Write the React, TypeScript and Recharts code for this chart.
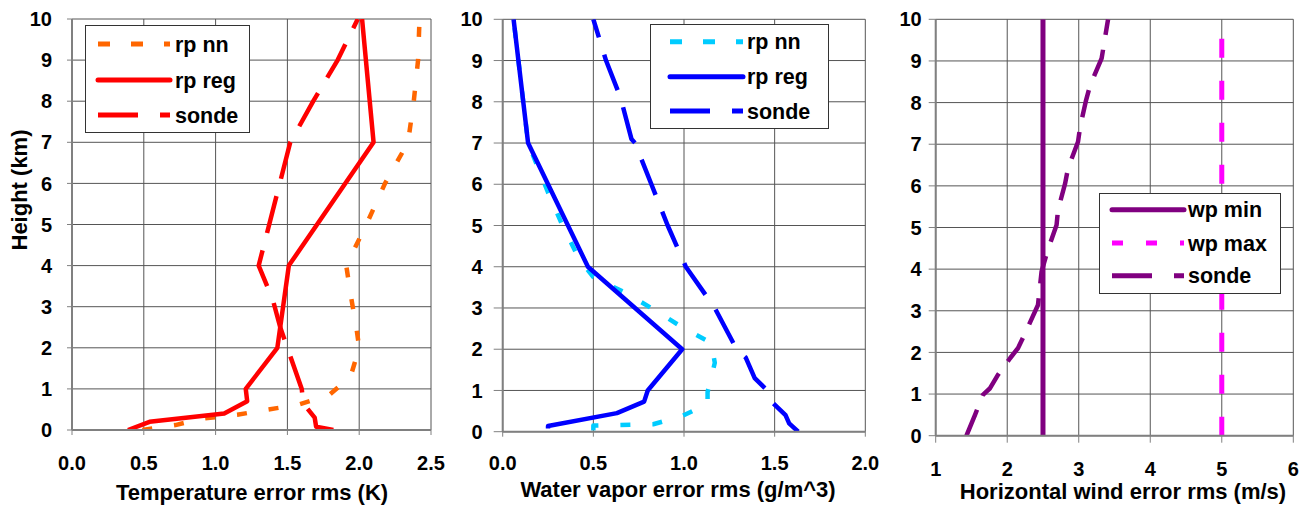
import React from 'react';
import { LineChart, Line, XAxis, YAxis, CartesianGrid, Legend } from 'recharts';

type P = { v: number; h: number };

const FONT = '"Liberation Sans", Arial, Helvetica, sans-serif';

// ---------- tick labels ----------
const heightTicks = [0, 1, 2, 3, 4, 5, 6, 7, 8, 9, 10];
const tempTicks = [0, 0.5, 1, 1.5, 2, 2.5];
const vaporTicks = [0, 0.5, 1, 1.5, 2];
const windTicks = [1, 2, 3, 4, 5, 6];

// ---------- series names ----------
const tempNames = ['rp nn', 'rp reg', 'sonde'];
const vaporNames = ['rp nn', 'rp reg', 'sonde'];
const windNames = ['wp min', 'wp max', 'sonde'];

// ---------- axis titles ----------
const yTitle = 'Height (km)';
const tempTitle = 'Temperature error rms (K)';
const vaporTitle = 'Water vapor error rms (g/m^3)';
const windTitle = 'Horizontal wind error rms (m/s)';

// ---------- temperature (K) vs height (km) ----------
const tempRpNn: P[] = [
  { v: 0.49, h: 0 }, { v: 0.72, h: 0.12 }, { v: 0.91, h: 0.28 }, { v: 1.15, h: 0.37 },
  { v: 1.35, h: 0.49 }, { v: 1.57, h: 0.61 }, { v: 1.79, h: 0.85 }, { v: 1.94, h: 1.3 },
  { v: 2.0, h: 2 }, { v: 1.98, h: 2.5 }, { v: 1.94, h: 3.3 }, { v: 1.91, h: 4 },
  { v: 2.05, h: 5 }, { v: 2.18, h: 6 }, { v: 2.34, h: 7 }, { v: 2.38, h: 8 },
  { v: 2.41, h: 9 }, { v: 2.42, h: 10 },
];
const tempRpReg: P[] = [
  { v: 0.39, h: 0 }, { v: 0.54, h: 0.2 }, { v: 1.06, h: 0.4 }, { v: 1.22, h: 0.7 },
  { v: 1.21, h: 1 }, { v: 1.43, h: 2 }, { v: 1.45, h: 2.5 }, { v: 1.51, h: 4 },
  { v: 2.1, h: 7 }, { v: 2.02, h: 10 },
];
const tempSonde: P[] = [
  { v: 1.82, h: 0 }, { v: 1.7, h: 0.08 }, { v: 1.69, h: 0.3 }, { v: 1.61, h: 0.65 },
  { v: 1.6, h: 1 }, { v: 1.5, h: 2 }, { v: 1.45, h: 2.5 }, { v: 1.4, h: 3.15 },
  { v: 1.3, h: 4 }, { v: 1.52, h: 7 }, { v: 1.68, h: 8 }, { v: 1.85, h: 9 },
  { v: 1.99, h: 10 },
];

// ---------- water vapor (g/m^3) vs height (km) ----------
const vaporRpNn: P[] = [
  { v: 0.5, h: 0.03 }, { v: 0.5, h: 0.15 }, { v: 0.83, h: 0.18 }, { v: 0.99, h: 0.38 },
  { v: 1.13, h: 0.67 }, { v: 1.13, h: 0.96 }, { v: 1.17, h: 1.67 }, { v: 1.15, h: 2.15 },
  { v: 0.98, h: 2.56 }, { v: 0.83, h: 2.97 }, { v: 0.68, h: 3.36 }, { v: 0.5, h: 3.75 },
  { v: 0.42, h: 4.2 }, { v: 0.33, h: 5 }, { v: 0.25, h: 5.8 }, { v: 0.14, h: 7 },
  { v: 0.06, h: 10 },
];
const vaporRpReg: P[] = [
  { v: 0.25, h: 0.08 }, { v: 0.25, h: 0.14 }, { v: 0.63, h: 0.45 }, { v: 0.78, h: 0.73 },
  { v: 0.8, h: 1 }, { v: 0.99, h: 2 }, { v: 0.47, h: 4 }, { v: 0.14, h: 7 },
  { v: 0.06, h: 10 },
];
const vaporSonde: P[] = [
  { v: 1.63, h: 0 }, { v: 1.58, h: 0.2 }, { v: 1.56, h: 0.4 }, { v: 1.49, h: 0.7 },
  { v: 1.46, h: 1 }, { v: 1.39, h: 1.3 }, { v: 1.34, h: 1.8 }, { v: 1.29, h: 2 },
  { v: 1.17, h: 3 }, { v: 1.01, h: 4 }, { v: 0.91, h: 5 }, { v: 0.82, h: 6 },
  { v: 0.73, h: 7 }, { v: 0.71, h: 7.1 }, { v: 0.65, h: 8.1 }, { v: 0.57, h: 9 },
  { v: 0.5, h: 10 },
];

// ---------- horizontal wind (m/s) vs height (km) ----------
const windWpMin: P[] = [{ v: 2.5, h: 0 }, { v: 2.5, h: 10 }];
const windWpMax: P[] = [{ v: 5, h: 0 }, { v: 5, h: 10 }];
const windSonde: P[] = [
  { v: 1.43, h: 0 }, { v: 1.55, h: 0.5 }, { v: 1.66, h: 0.98 }, { v: 1.76, h: 1.14 },
  { v: 1.87, h: 1.46 }, { v: 2.04, h: 1.86 }, { v: 2.15, h: 2.1 }, { v: 2.25, h: 2.46 },
  { v: 2.43, h: 3.14 }, { v: 2.48, h: 3.94 }, { v: 2.56, h: 4.42 }, { v: 2.69, h: 5.06 },
  { v: 2.71, h: 5.42 }, { v: 2.81, h: 6.06 }, { v: 2.85, h: 6.42 }, { v: 2.99, h: 7.06 },
  { v: 3.02, h: 7.42 }, { v: 3.1, h: 8.04 }, { v: 3.16, h: 8.42 }, { v: 3.32, h: 9.06 },
  { v: 3.41, h: 10 },
];

// ---------- styling / layout ----------
type Series = {
  name: string;
  data: P[];
  color: string;
  width: number;
  dash?: string;
  legendDash?: string;
  round?: boolean;
};

type PanelCfg = {
  left: number;
  width: number;
  top: number;
  right: number;
  yw: number;
  xh: number;
  domain: [number, number];
  ticks: number[];
  fmt: (v: number) => string;
  ytickSize: number;
  ytickMargin: number;
  xtickSize: number;
  xtickMargin: number;
  series: Series[];
  legend: { left: number; top: number; w: number; h: number; rows: number[]; sx1: number; sx2: number; tx: number };
  xTitle: string;
  xTitleX: number;
  xTitleY: number;
  yTitle?: boolean;
};

const tickStyle = { fill: '#000', fontSize: 20, fontWeight: 700, fontFamily: FONT };
const TITLE_SIZE = 22;

const panels: PanelCfg[] = [
  {
    left: 0, width: 460, top: 19, right: 29, yw: 72, xh: 76,
    domain: [0, 2.5], ticks: tempTicks, fmt: (v) => v.toFixed(1),
    ytickSize: 5, ytickMargin: 15, xtickSize: 5, xtickMargin: 21,
    series: [
      { name: tempNames[0], data: tempRpNn, color: '#FF6600', width: 4.5, dash: '10 22', legendDash: '12 21' },
      { name: tempNames[1], data: tempRpReg, color: '#FF0000', width: 4.5, round: true },
      { name: tempNames[2], data: tempSonde, color: '#FF0000', width: 4.5, dash: '38 18', legendDash: '40 22' },
    ],
    legend: { left: 85, top: 25, w: 165, h: 108, rows: [19, 55, 90], sx1: 13, sx2: 85, tx: 90 },
    xTitle: tempTitle, xTitleX: 252, xTitleY: 500, yTitle: true,
  },
  {
    left: 440, width: 460, top: 19.3, right: 34.7, yw: 62.7, xh: 74.3,
    domain: [0, 2], ticks: vaporTicks, fmt: (v) => v.toFixed(1),
    ytickSize: 9, ytickMargin: 11, xtickSize: 5, xtickMargin: 19,
    series: [
      { name: vaporNames[0], data: vaporRpNn, color: '#00CCFF', width: 4.5, dash: '10 22', legendDash: '12 21' },
      { name: vaporNames[1], data: vaporRpReg, color: '#0000FF', width: 4.5, round: true },
      { name: vaporNames[2], data: vaporSonde, color: '#0000FF', width: 4.5, dash: '38 18', legendDash: '40 22' },
    ],
    legend: { left: 210.3, top: 24, w: 179, h: 105, rows: [17.7, 52.7, 87], sx1: 20, sx2: 93, tx: 97 },
    xTitle: vaporTitle, xTitleX: 238, xTitleY: 497,
  },
  {
    left: 880, width: 425, top: 19.3, right: 11.7, yw: 55.7, xh: 70.3,
    domain: [1, 6], ticks: windTicks, fmt: (v) => String(v),
    ytickSize: 7, ytickMargin: 7, xtickSize: 7, xtickMargin: 19,
    series: [
      { name: windNames[0], data: windWpMin, color: '#800080', width: 5, round: true },
      { name: windNames[1], data: windWpMax, color: '#FF00FF', width: 5, dash: '19 23', legendDash: '11 23' },
      { name: windNames[2], data: windSonde, color: '#800080', width: 4.5, dash: '28 15', legendDash: '40 22' },
    ],
    legend: { left: 218.7, top: 193.3, w: 182, h: 101, rows: [16.7, 50, 82.7], sx1: 13, sx2: 85, tx: 89 },
    xTitle: windTitle, xTitleX: 243, xTitleY: 498.5,
  },
];

function LegendBox({ cfg }: { cfg: PanelCfg }) {
  const L = cfg.legend;
  return (
    <svg width={L.w} height={L.h} style={{ display: 'block' }}>
      <rect x={0.5} y={0.5} width={L.w - 1} height={L.h - 1} fill="#fff" stroke="#333" strokeWidth={1} />
      {cfg.series.map((s, i) => (
        <g key={s.name + i}>
          <line
            x1={L.sx1}
            x2={L.sx2}
            y1={L.rows[i]}
            y2={L.rows[i]}
            stroke={s.color}
            strokeWidth={5}
            strokeDasharray={s.legendDash}
            strokeLinecap={s.round ? 'round' : 'butt'}
          />
          <text
            x={L.tx}
            y={L.rows[i]}
            dy="0.36em"
            fontFamily={FONT}
            fontSize={21.5}
            fontWeight={700}
            fill="#000"
          >
            {s.name}
          </text>
        </g>
      ))}
    </svg>
  );
}

function Panel({ cfg }: { cfg: PanelCfg }) {
  return (
    <div style={{ position: 'absolute', left: cfg.left, top: 0 }}>
      <LineChart
        width={cfg.width}
        height={506}
        margin={{ top: cfg.top, right: cfg.right, bottom: 0, left: 0 }}
      >
        <CartesianGrid stroke="#555" strokeWidth={1} />
        <XAxis
          type="number"
          dataKey="v"
          domain={cfg.domain}
          ticks={cfg.ticks}
          interval={0}
          allowDataOverflow
          tickFormatter={cfg.fmt}
          height={cfg.xh}
          tickSize={cfg.xtickSize}
          tickMargin={cfg.xtickMargin}
          axisLine={{ stroke: '#808080', strokeWidth: 2 }}
          tickLine={{ stroke: '#808080' }}
          tick={tickStyle}
          label={() => (
            <text
              x={cfg.xTitleX}
              y={cfg.xTitleY}
              textAnchor="middle"
              fontFamily={FONT}
              fontSize={TITLE_SIZE}
              fontWeight={700}
              fill="#000"
            >
              {cfg.xTitle}
            </text>
          )}
        />
        <YAxis
          type="number"
          domain={[0, 10]}
          ticks={heightTicks}
          interval={0}
          allowDataOverflow
          width={cfg.yw}
          tickSize={cfg.ytickSize}
          tickMargin={cfg.ytickMargin}
          axisLine={{ stroke: '#808080', strokeWidth: 2 }}
          tickLine={{ stroke: '#808080' }}
          tick={tickStyle}
          label={
            cfg.yTitle
              ? () => (
                  <text
                    x={27}
                    y={190}
                    transform="rotate(-90, 27, 190)"
                    textAnchor="middle"
                    fontFamily={FONT}
                    fontSize={TITLE_SIZE}
                    fontWeight={700}
                    fill="#000"
                  >
                    {yTitle}
                  </text>
                )
              : undefined
          }
        />
        {cfg.series.map((s, i) => (
          <Line
            key={s.name + i}
            name={s.name}
            data={s.data}
            dataKey="h"
            type="linear"
            stroke={s.color}
            strokeWidth={s.width}
            strokeDasharray={s.dash}
            strokeLinejoin="round"
            dot={false}
            activeDot={false}
            isAnimationActive={false}
          />
        ))}
        <Legend
          layout="horizontal"
          align="center"
          verticalAlign="middle"
          wrapperStyle={{
            left: cfg.legend.left,
            top: cfg.legend.top,
            width: cfg.legend.w,
            height: cfg.legend.h,
            margin: 0,
          }}
          content={() => <LegendBox cfg={cfg} />}
        />
      </LineChart>
    </div>
  );
}

export default function App() {
  return (
    <div
      style={{
        position: 'fixed',
        left: 0,
        top: 0,
        width: 1305,
        height: 506,
        background: '#fff',
        overflow: 'hidden',
      }}
    >
      {panels.map((p, i) => (
        <Panel key={i} cfg={p} />
      ))}
    </div>
  );
}
